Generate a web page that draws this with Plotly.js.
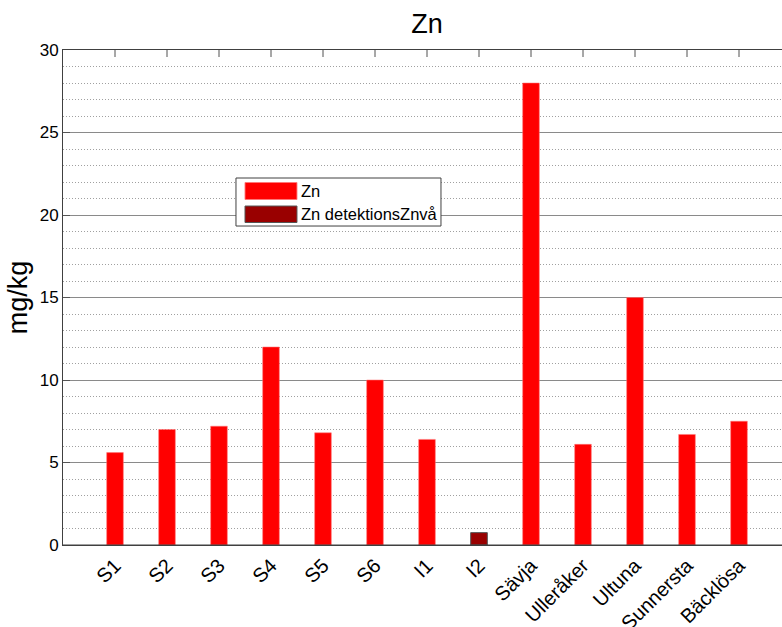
<!DOCTYPE html>
<html>
<head>
<meta charset="utf-8">
<script src="https://cdn.plot.ly/plotly-3.0.1.min.js"></script>
<style>
  html, body { margin: 0; padding: 0; overflow: hidden; background: #fff; }
  #chart { width: 792px; height: 627px; }
</style>
</head>
<body>
<div id="chart"></div>
<script>
// Sampling sites along the x axis
const sites = ['S1', 'S2', 'S3', 'S4', 'S5', 'S6', 'I1', 'I2', 'Sävja', 'Ulleråker', 'Ultuna', 'Sunnersta', 'Bäcklösa'];
// Measured zinc concentration (mg/kg); I2 is below detection
const znValues = [5.6, 7.0, 7.2, 12.0, 6.8, 10.0, 6.4, null, 28.0, 6.1, 15.0, 6.7, 7.5];
// Detection level reported where the value is below it
const detectionValues = [null, null, null, null, null, null, null, 0.75, null, null, null, null, null];
// Y axis tick values
const yTicks = [0, 5, 10, 15, 20, 25, 30];

const positions = sites.map((_, i) => i + 1);
const font = 'Liberation Sans, Arial, Helvetica, sans-serif';
const plotHeight = 627 - 50 - 82;

const traces = [
  {
    type: 'bar', name: 'Zn', x: positions, y: znValues, width: 0.32,
    marker: { color: '#ff0000', line: { color: 'rgba(255,120,120,0.9)', width: 0.6 } },
    showlegend: false, hoverinfo: 'x+y'
  },
  {
    type: 'bar', name: 'Zn detektionsZnvå', x: positions, y: detectionValues, width: 0.32,
    marker: { color: '#990000', line: { color: '#555555', width: 1 } },
    showlegend: false, hoverinfo: 'x+y'
  }
];

// Legend box drawn in paper coordinates
const legend = { x0: 0.2376, x1: 0.5192, y0: 0.6444, y1: 0.7414 };
const patch = { x0: 0.25, x1: 0.3214 };
const rows = [
  { y0: 0.698, y1: 0.7323, color: '#ff0000', edge: 'rgba(255,120,120,0.9)', label: 'Zn' },
  { y0: 0.6515, y1: 0.6848, color: '#990000', edge: '#555555', label: 'Zn detektionsZnvå' }
];

const shapes = [
  // bottom axis line kept on top of the bars
  { type: 'line', xref: 'paper', yref: 'paper', x0: 0, x1: 1, y0: 0, y1: 0,
    line: { color: '#404040', width: 1 }, layer: 'above' }
];
// inward tick marks along the top edge, one per category
positions.forEach(p => {
  shapes.push({ type: 'line', xref: 'x', yref: 'paper', x0: p, x1: p, y0: 1, y1: 1 - 7 / plotHeight,
    line: { color: '#505050', width: 1 }, layer: 'above' });
});
shapes.push({ type: 'rect', xref: 'paper', yref: 'paper', x0: legend.x0, x1: legend.x1, y0: legend.y0, y1: legend.y1,
  fillcolor: '#ffffff', line: { color: '#404040', width: 1 }, layer: 'above' });

const annotations = [];
rows.forEach(r => {
  shapes.push({ type: 'rect', xref: 'paper', yref: 'paper', x0: patch.x0, x1: patch.x1, y0: r.y0, y1: r.y1,
    fillcolor: r.color, line: { color: r.edge, width: 1 }, layer: 'above' });
  annotations.push({ xref: 'paper', yref: 'paper', x: patch.x1 + 0.003, y: (r.y0 + r.y1) / 2,
    xanchor: 'left', yanchor: 'middle', showarrow: false, text: r.label,
    font: { family: font, size: 16.5, color: '#000' } });
});

const layout = {
  width: 792, height: 627,
  margin: { l: 63, r: 1, t: 50, b: 82 },
  paper_bgcolor: '#ffffff', plot_bgcolor: '#ffffff',
  barmode: 'overlay',
  font: { family: font, color: '#000' },
  title: { text: 'Zn', font: { family: font, size: 27, color: '#000' },
           x: 0.5, xref: 'paper', xanchor: 'center', y: 1 - 24 / 627, yanchor: 'middle' },
  xaxis: {
    range: [0, 14], tickmode: 'array', tickvals: positions, ticktext: sites,
    tickangle: -45, tickfont: { family: font, size: 20, color: '#000' },
    ticks: '', showgrid: false, zeroline: false, automargin: false,
    showline: true, linecolor: '#404040', linewidth: 1, mirror: true
  },
  yaxis: {
    range: [0, 30], tickmode: 'array', tickvals: yTicks,
    tickfont: { family: font, size: 17, color: '#000' },
    ticks: 'inside', ticklen: 7, tickcolor: '#555555',
    showline: true, linecolor: '#404040', linewidth: 1, mirror: true,
    showgrid: true, gridcolor: '#8a8a8a', gridwidth: 1, zeroline: false,
    minor: { dtick: 1, showgrid: true, gridcolor: '#a0a0a0', griddash: '1px,2px', gridwidth: 1, ticks: '' },
    title: { text: 'mg/kg', font: { family: font, size: 27, color: '#000' }, standoff: 4 }
  },
  shapes: shapes,
  annotations: annotations
};

Plotly.newPlot('chart', traces, layout, { staticPlot: true, displayModeBar: false });
</script>
</body>
</html>
